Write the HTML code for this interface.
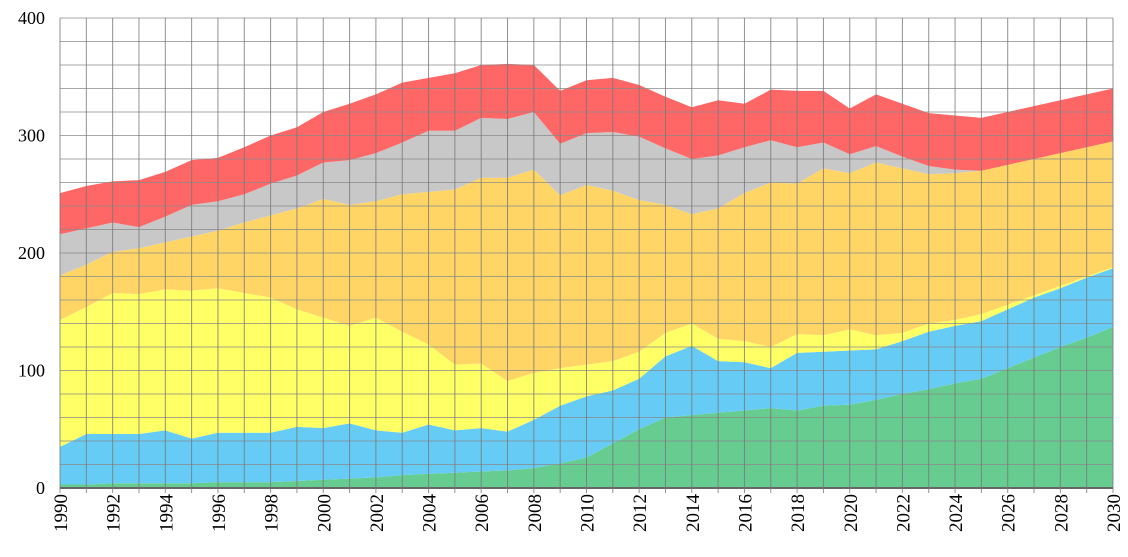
<!DOCTYPE html>
<html><head><meta charset="utf-8"><style>
html,body{margin:0;padding:0;background:#fff;}
svg{display:block;font-family:"Liberation Serif",serif;}
</style></head><body>
<svg id="chart" width="1128" height="557" viewBox="0 0 1128 557" xmlns="http://www.w3.org/2000/svg">
<g id="areas"></g>
<g id="grid"></g>
<g id="yticks"></g>
<g id="xticks"></g>
</svg>
<script>
const years = [];
for (let y = 1990; y <= 2030; y++) years.push(y);
const green = [3,3,4,4,4,4,5,5,5,6,7,8,9,11,12,13,14,15,17,21,26,38,50,60,62,64,66,68,66,70,71,75,80,84,89,93,102,111,120,128,137];
const blue = [32,43,42,42,45,38,42,42,42,46,44,47,40,36,42,36,37,33,41,49,52,45,43,52,59,44,41,34,49,46,46,43,45,49,49,49,50,51,50,51,50];
const yellow = [108,108,120,119,120,126,123,119,115,100,94,83,96,86,68,56,55,43,40,32,27,25,23,20,19,19,18,18,16,14,18,12,7,7,5,6,4,2,2,1,1];
const orange = [38,36,35,39,40,46,49,60,70,86,101,103,99,117,130,149,158,173,173,147,153,145,129,109,93,111,126,140,128,142,133,147,140,127,125,122,119,116,113,110,107];
const gray = [35,31,25,18,22,27,25,24,27,28,31,38,41,44,52,50,51,50,49,44,44,50,54,48,47,45,39,36,31,22,16,14,10,7,3,0,0,0,0,0,0];
const red = [35,36,35,40,38,38,37,40,41,41,43,48,50,51,45,49,45,47,40,45,45,46,44,44,44,47,37,43,48,44,39,44,45,45,46,45,45,45,45,45,45];
const yTicks = [0,100,200,300,400];
const seriesNames = ['green-series','blue-series','yellow-series','orange-series','gray-series','red-series'];
const seriesColors = ['#66cc8f','#66ccf5','#ffff66','#ffd666','#c8c8c8','#ff6666'];
const series = [green, blue, yellow, orange, gray, red];

const X0 = 60, X1 = 1113, Y0 = 488, Y1 = 18, YMAX = 400;
const xs = i => X0 + (X1 - X0) * (years[i] - years[0]) / (years[years.length-1] - years[0]);
const ys = v => Y0 - (Y0 - Y1) * v / YMAX;
const NS = 'http://www.w3.org/2000/svg';
const areas = document.getElementById('areas');
let base = years.map(() => 0);
series.forEach((s, k) => {
  const top = base.map((b, i) => b + s[i]);
  let d = '';
  top.forEach((v, i) => { d += (i ? 'L' : 'M') + xs(i).toFixed(2) + ',' + ys(v).toFixed(2); });
  for (let i = years.length - 1; i >= 0; i--) d += 'L' + xs(i).toFixed(2) + ',' + ys(base[i]).toFixed(2);
  d += 'Z';
  const p = document.createElementNS(NS, 'path');
  p.setAttribute('d', d);
  p.setAttribute('fill', seriesColors[k]);
  
  
  areas.appendChild(p);
  base = top;
});
const grid = document.getElementById('grid');
for (let v = 0; v <= YMAX; v += 20) {
  const l = document.createElementNS(NS, 'line');
  l.setAttribute('x1', X0); l.setAttribute('x2', X1);
  l.setAttribute('y1', ys(v)); l.setAttribute('y2', ys(v));
  l.setAttribute('stroke', v === 0 ? '#666' : '#8a8a8a');
  l.setAttribute('stroke-width', v === 0 ? 2 : 1);
  l.setAttribute('stroke-opacity', v === 0 ? 1 : 0.75);
  
  
  grid.appendChild(l);
}
years.forEach((y, i) => {
  const l = document.createElementNS(NS, 'line');
  l.setAttribute('x1', xs(i)); l.setAttribute('x2', xs(i));
  l.setAttribute('y1', Y1); l.setAttribute('y2', Y0 + 5);
  l.setAttribute('stroke', '#777');
  l.setAttribute('stroke-width', 1);
  l.setAttribute('stroke-opacity', 0.8);
  
  
  grid.appendChild(l);
});
const yt = document.getElementById('yticks');
yTicks.forEach(v => {
  const t = document.createElementNS(NS, 'text');
  t.setAttribute('x', 45); t.setAttribute('y', ys(v) + 6);
  t.setAttribute('text-anchor', 'end');
  t.setAttribute('font-size', '18');
  t.textContent = v;
  
  
  yt.appendChild(t);
});
const xt = document.getElementById('xticks');
years.forEach((y, i) => {
  if (y % 2) return;
  const t = document.createElementNS(NS, 'text');
  const x = xs(i) + 7, yy = 494;
  t.setAttribute('x', x); t.setAttribute('y', yy);
  t.setAttribute('transform', 'rotate(-90 ' + x + ' ' + yy + ')');
  t.setAttribute('text-anchor', 'end');
  t.setAttribute('font-size', '19');
  t.textContent = y;
  
  
  xt.appendChild(t);
});
</script>
</body></html>
